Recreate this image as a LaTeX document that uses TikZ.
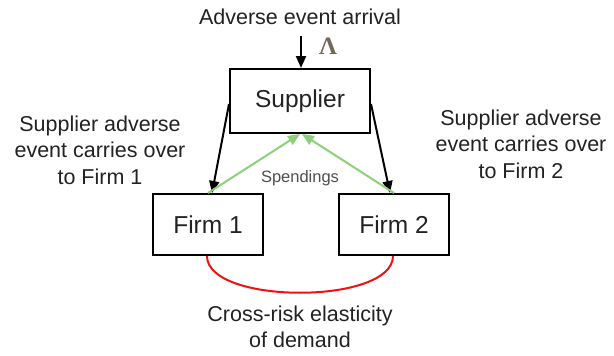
\documentclass[tikz,border=0pt]{standalone}
\usepackage{fontspec}
\setmainfont{Liberation Sans}
\newfontfamily\lamfont{Liberation Serif}
\usetikzlibrary{arrows.meta,calc}
\definecolor{txt}{HTML}{222222}
\definecolor{grn}{HTML}{8FCE7A}
\definecolor{lam}{RGB}{115,104,88}
\definecolor{arcred}{HTML}{EE1111}
\begin{document}
\begin{tikzpicture}[x=1pt,y=-1pt,
  box/.style={draw=black,line width=2pt,inner sep=0pt,text=txt,font=\fontsize{24.5}{29}\selectfont},
  lbl/.style={text=txt,align=center,inner sep=0pt,font=\fontsize{21.5}{26.5}\selectfont},
  blk/.style={draw=black,line width=2pt,-{Triangle[length=12pt,width=10pt]}},
  gar/.style={draw=grn,line width=2pt,-{Triangle[length=12pt,width=10pt]}},
]
\useasboundingbox (0,0) rectangle (614,356);
\node[box,minimum width=140pt,minimum height=64pt] (sup) at (300,101) {Supplier};
\node[box,minimum width=110pt,minimum height=61pt] (f1) at (208,224.5) {Firm 1};
\node[box,minimum width=110pt,minimum height=61pt] (f2) at (394,224.5) {Firm 2};
\node[lbl] (title) at (300,17) {Adverse event arrival};
\node[text=lam,inner sep=0pt,font=\lamfont\bfseries\fontsize{25}{29}\selectfont] (lamb) at (328,46) {Λ};
\node[lbl] (left) at (100,150) {Supplier adverse\\event carries over\\to Firm 1};
\node[lbl] (right) at (521,144) {Supplier adverse\\event carries over\\to Firm 2};
\node[text=txt!80,inner sep=0pt,font=\fontsize{16.5}{20}\selectfont] (sp) at (300,178) {Spendings};
\node[lbl] (cr) at (300,327) {Cross-risk elasticity\\of demand};
\coordinate (ev) at (301,36);
\draw[blk] (ev) -- (ev |- sup.north);
\draw[blk] ([yshift=-3pt]sup.west) -- ([xshift=4pt]f1.north);
\draw[blk] ([yshift=-3pt]sup.east) -- ([xshift=-4pt]f2.north);
\draw[gar] (f1.north) -- (sup.south);
\draw[gar] (f2.north) -- ([xshift=2pt]sup.south);
\draw[arcred,line width=2pt] ([xshift=-1pt]f1.south) .. controls +(0,49) and +(0,49) .. ([xshift=-1pt]f2.south);
\end{tikzpicture}
\end{document}
